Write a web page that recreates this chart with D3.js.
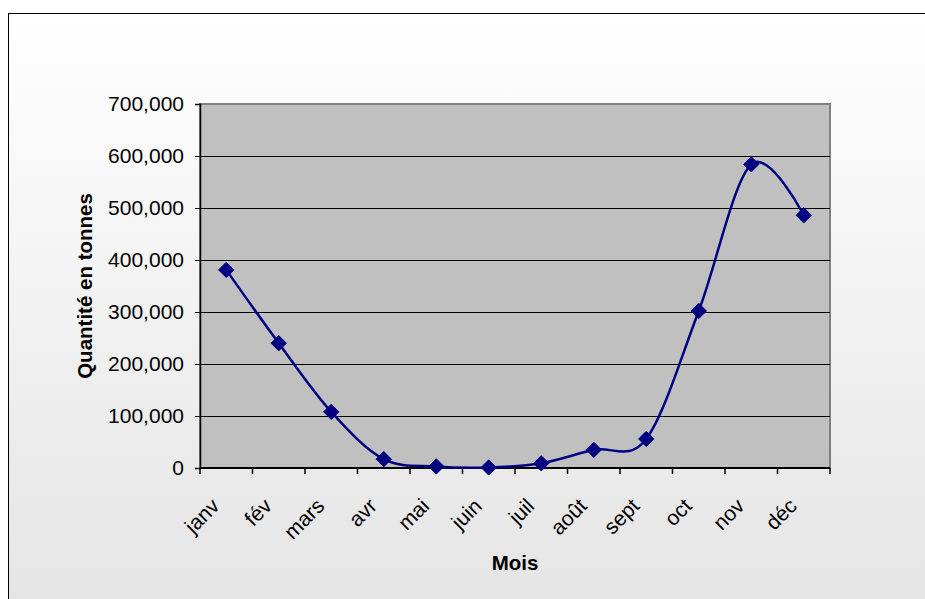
<!DOCTYPE html>
<html><head><meta charset="utf-8">
<script src="https://cdn.jsdelivr.net/npm/d3@7"></script>
<style>body{margin:0;background:#fff;}svg{display:block;font-family:"Liberation Sans",Arial,sans-serif;}</style>
</head><body><svg id="c" width="925" height="599"></svg>
<script>
const months = ["janv","fév","mars","avr","mai","juin","juil","août","sept","oct","nov","déc"];
const values = [381000,240000,108000,17000,3000,1000,9000,35000,56000,302000,584000,486000];
const yTicks = [0,100000,200000,300000,400000,500000,600000,700000];

const svg = d3.select("#c");
const defs = svg.append("defs");
const g0 = defs.append("linearGradient").attr("id","bg").attr("x1",0).attr("y1",0).attr("x2",0).attr("y2",1);
g0.append("stop").attr("offset","0%").attr("stop-color","#ffffff");
g0.append("stop").attr("offset","100%").attr("stop-color","#e4e4e4");
svg.append("rect").attr("x",8.5).attr("y",13.5).attr("width",930).attr("height",600)
  .attr("fill","url(#bg)").attr("stroke","#000").attr("stroke-width",1);

const L=200,R=830,T=104,B=468;
const x = d3.scaleBand().domain(months).range([L,R]);
const y = d3.scaleLinear().domain([0,700000]).range([B,T]);

svg.append("rect").attr("x",L).attr("y",T).attr("width",R-L).attr("height",B-T)
  .attr("fill","#c0c0c0").attr("stroke","#808080").attr("stroke-width",2);

// gridlines
svg.append("g").selectAll("line").data(yTicks.slice(1,-1)).join("line")
  .attr("x1",L).attr("x2",R).attr("y1",d=>Math.round(y(d))+0.5).attr("y2",d=>Math.round(y(d))+0.5)
  .attr("stroke","#000").attr("stroke-width",1);

// y axis
const fmt = d3.format(",");
const ya = svg.append("g").attr("transform",`translate(${L},0)`)
  .call(d3.axisLeft(y).tickValues(yTicks).tickFormat(d=>fmt(d)).tickSize(5).tickPadding(11));
ya.select(".domain").attr("stroke","#000").attr("stroke-width",1.5);
ya.selectAll(".tick line").attr("stroke","#000");
ya.selectAll("text").attr("font-size",21).attr("fill","#000").attr("font-family","Liberation Sans, Arial, sans-serif");

// x axis
const tickPos = months.map(m=>x(m)).concat([R]);
svg.append("line").attr("x1",L).attr("x2",R).attr("y1",B).attr("y2",B).attr("stroke","#000").attr("stroke-width",2);
svg.append("g").selectAll("line").data(tickPos).join("line")
  .attr("x1",d=>d).attr("x2",d=>d).attr("y1",B).attr("y2",B+6).attr("stroke","#000").attr("stroke-width",1.5);
svg.append("g").selectAll("text").data(months).join("text")
  .attr("transform",d=>`translate(${x(d)+x.bandwidth()/2-16},${B+29}) rotate(-45)`)
  .attr("text-anchor","end").attr("dy","0.7em").attr("font-size",21).attr("fill","#000")
  .text(d=>d);

// line
const line = d3.line().x((d,i)=>x(months[i])+x.bandwidth()/2).y(d=>y(d)).curve(d3.curveCatmullRom.alpha(0));
svg.append("path").datum(values).attr("d",line).attr("fill","none").attr("stroke","#000080").attr("stroke-width",2.5);
svg.append("g").selectAll("path").data(values).join("path")
  .attr("d",d3.symbol().type(d3.symbolDiamond2).size(150))
  .attr("transform",(d,i)=>`translate(${x(months[i])+x.bandwidth()/2},${y(d)})`)
  .attr("fill","#000080").attr("stroke","#000080").attr("stroke-width",1);

// titles
svg.append("text").attr("transform",`translate(92,${(T+B)/2}) rotate(-90)`).attr("text-anchor","middle")
  .attr("font-size",20.5).attr("font-weight","bold").text("Quantité en tonnes");
svg.append("text").attr("x",(L+R)/2).attr("y",570).attr("text-anchor","middle")
  .attr("font-size",20.5).attr("font-weight","bold").text("Mois");
</script></body></html>
